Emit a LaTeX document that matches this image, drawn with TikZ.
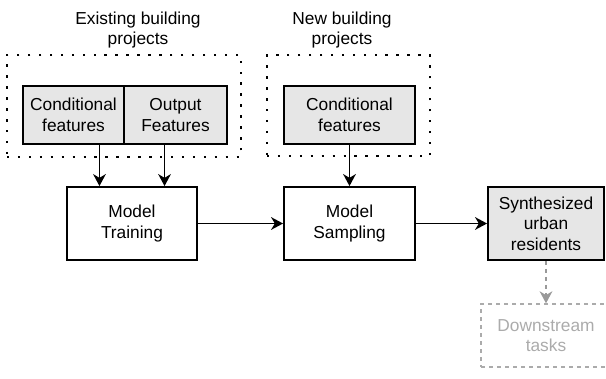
\documentclass[tikz,border=0pt]{standalone}
\usepackage{fontspec}
\setmainfont{Liberation Sans}
\usetikzlibrary{arrows.meta}
\definecolor{featgray}{HTML}{E6E6E6}
\definecolor{fadegray}{HTML}{ABABAB}
\definecolor{fadearrow}{HTML}{999999}

\begin{document}
\begin{tikzpicture}[x=0.75pt,y=-0.75pt,line width=1.35pt,
	-{Stealth[length=9pt,width=9.5pt,inset=2.8pt]},
	font=\fontsize{13}{15.5}\selectfont]
\tikzstyle{group}=[draw,-,line width=1.8pt,dash pattern=on 1.8pt off 6.4pt,inner sep=0pt]
\tikzstyle{feat}=[draw,-,fill=featgray,minimum height=43.5pt,align=center,inner sep=0pt]
\tikzstyle{stage}=[draw,-,minimum width=97.5pt,minimum height=54.75pt,align=center,inner sep=0pt]
\tikzstyle{nudge right}=[xshift=24.4pt]
\tikzstyle{nudge left}=[xshift=-24.4pt]

\useasboundingbox (0,0) rectangle (606,378);

% data groups
\node[align=center] (existing title) at (138,30) {Existing building\\projects};
\node[align=center] (new title) at (342,30) {New building\\projects};
\node[group, minimum width=175.5pt, minimum height=76.5pt] (existing) at (124,106) {};
\node[group, minimum width=122.25pt, minimum height=75.75pt] (new) at (348.5,105.5) {};

\node[feat, minimum width=75.75pt] (cond1) at (73.5,115) {Conditional\\features};
\node[feat, minimum width=77.25pt] (out1) at (175.5,115) {Output\\Features};
\node[feat, minimum width=98.25pt] (cond2) at (349.5,115) {Conditional\\features};

% pipeline
\node[stage] (train) at (132,223.5) {Model\\Training};
\node[stage, minimum width=98.25pt] (samp) at (349.5,223.5) {Model\\Sampling};
\node[stage, fill=featgray, minimum width=87pt] (synth) at (546,223.5) {Synthesized\\urban\\residents};
\node[stage, draw=fadegray, text=fadegray, line width=1pt, dash pattern=on 3pt off 3pt,
	minimum height=47.25pt] (down) at (546,335.5) {Downstream\\tasks};

\coordinate (tin1) at ([nudge left] train.north);
\coordinate (tin2) at ([nudge right] train.north);

\draw (tin1 |- cond1.south) -- (tin1);
\draw (tin2 |- out1.south) -- (tin2);
\draw (cond2.south) -- (samp.north);
\draw (train.east) -- (samp.west);
\draw (samp.east) -- (synth.west);
\draw[fadearrow, dash pattern=on 3pt off 3pt] (synth.south) -- (down.north);

\end{tikzpicture}
\end{document}
